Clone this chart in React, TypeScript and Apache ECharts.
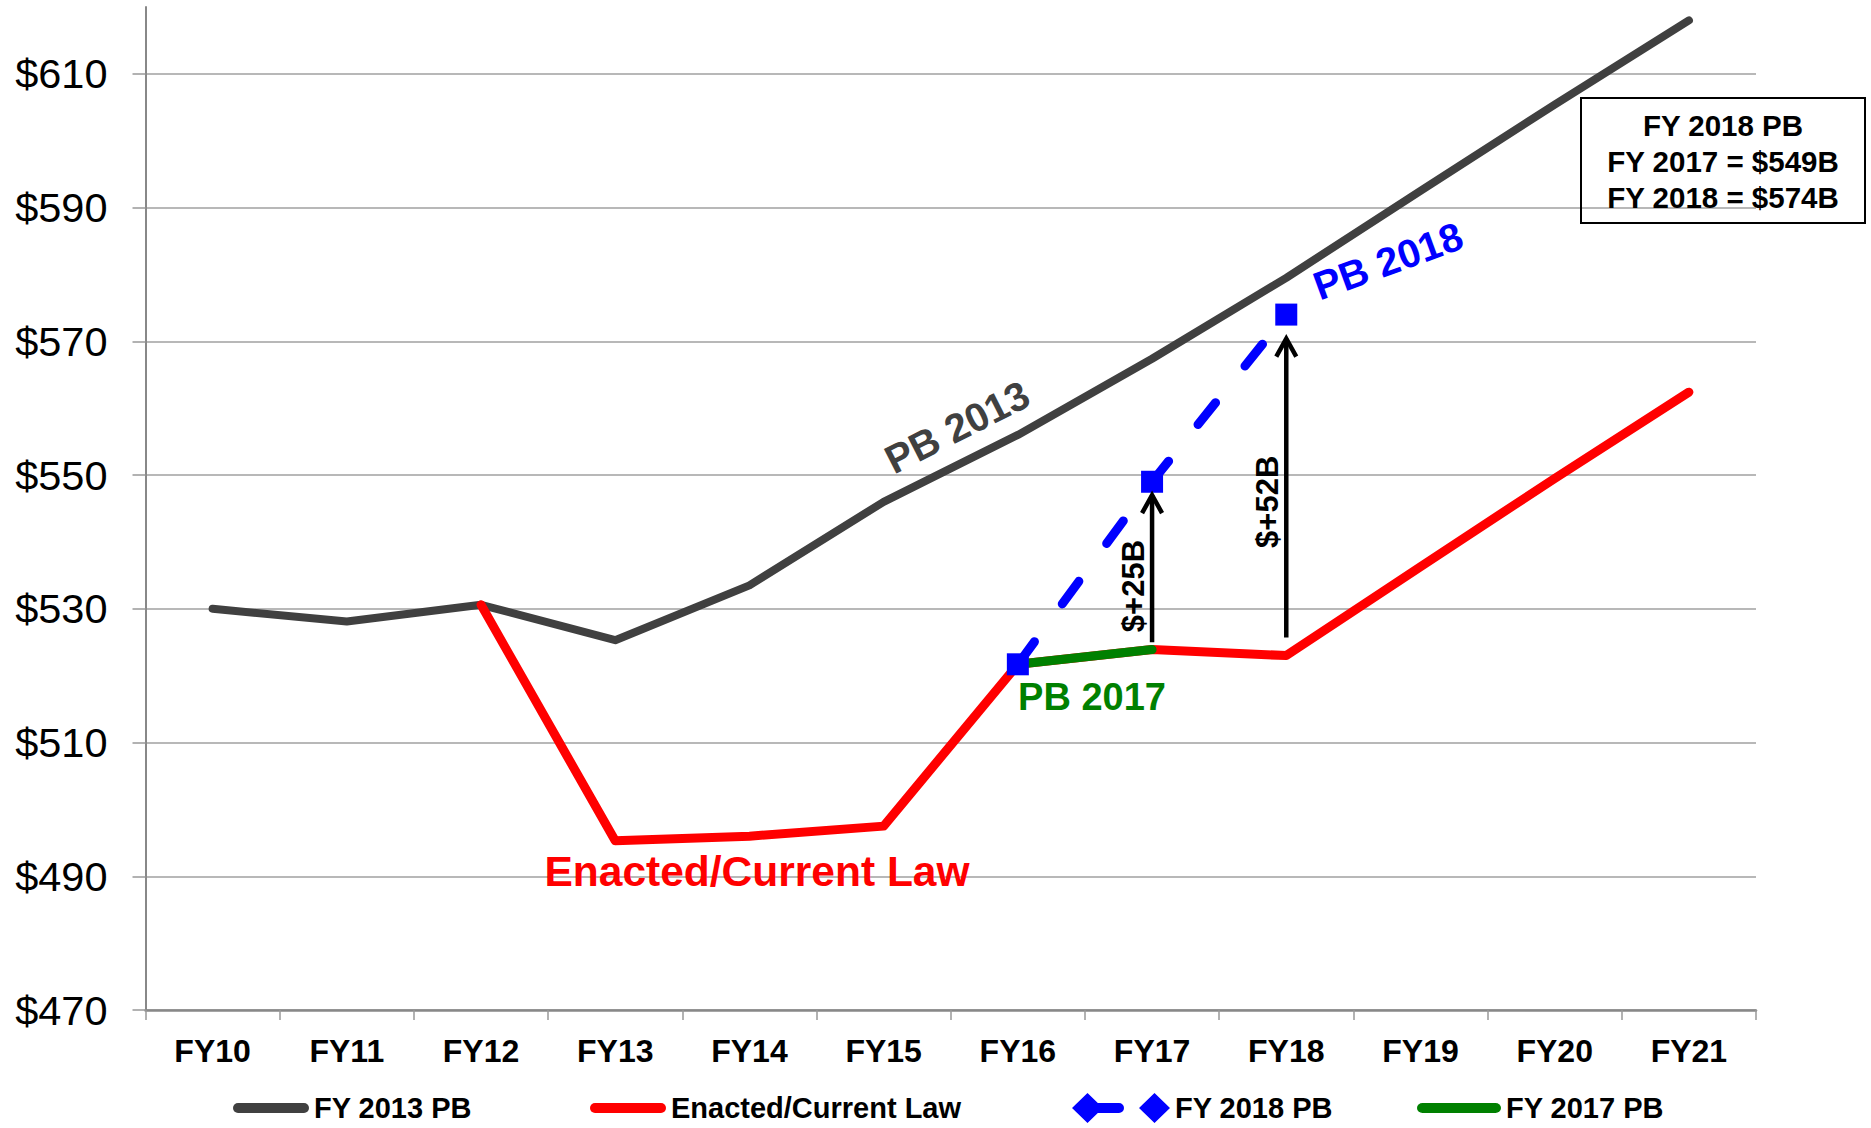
import React, { useEffect, useRef } from 'react';
import * as echarts from 'echarts';

const FONT = 'Arial, "Liberation Sans", Helvetica, sans-serif';

const categories = ['FY10', 'FY11', 'FY12', 'FY13', 'FY14', 'FY15', 'FY16', 'FY17', 'FY18', 'FY19', 'FY20', 'FY21'];
const pb2013 = [530, 528.1, 530.6, 525.3, 533.5, 546, 556, 567.4, 579.5, 592.5, 605.4, 618];
const enacted = [null, null, 530.6, 495.3, 496, 497.5, 521.7, 523.9, 523, 536.3, 549.5, 562.4];
const pb2017 = [null, null, null, null, null, null, 521.7, 523.9, null, null, null, null];
const pb2018 = [null, null, null, null, null, null, 521.7, 549, 574, null, null, null];
const yTicks = [470, 490, 510, 530, 550, 570, 590, 610];

const arrowCats = ['FY17', 'FY18'];
const arrowFrom = [525, 525.7];
const arrowTo = [547.3, 570.7];
const arrowLabelAt = [533.4, 546];
const arrowLabels = ['$+25B', '$+52B'];

const boxLines = ['FY 2018 PB', 'FY 2017 = $549B', 'FY 2018 = $574B'];

const LINE_ICON = 'path://M5,0L71,0A5,5,0,0,1,71,10L5,10A5,5,0,0,1,5,0Z';
const BLUE_ICON =
  'path://M0,15L15.5,0L31,15L15.5,30Z M15,10L47,10A5,5,0,0,1,47,20L15,20Z M67,15L82.5,0L98,15L82.5,30Z';

function makeLegend(name: string, left: number, top: number, icon: string, w: number, h: number, extraText: any = {}) {
  return {
    data: [{ name, icon }],
    left,
    top,
    padding: 0,
    itemWidth: w,
    itemHeight: h,
    itemGap: 0,
    selectedMode: false,
    symbolKeepAspect: false,
    itemStyle: { borderWidth: 0 },
    textStyle: { fontSize: 29, fontWeight: 'bold', color: '#000', fontFamily: FONT, lineHeight: 30, ...extraText },
  };
}

export default function App() {
  const ref = useRef<HTMLDivElement>(null);

  useEffect(() => {
    document.body.style.margin = '0';
    if (!ref.current) return;
    const chart = echarts.init(ref.current, null, { renderer: 'svg' });

    const arrowData = arrowCats.map((c, k) => [categories.indexOf(c), arrowFrom[k], arrowTo[k], arrowLabelAt[k]]);

    const option: any = {
      animation: false,
      backgroundColor: '#fff',
      grid: { left: 145.5, right: 115, top: 7, bottom: 118, containLabel: false, outerBoundsMode: 'none' },
      legend: [
        makeLegend('FY 2013 PB', 233, 1093, LINE_ICON, 76, 10),
        makeLegend('Enacted/Current Law', 590, 1093, LINE_ICON, 76, 10),
        makeLegend('FY 2018 PB', 1072, 1093, BLUE_ICON, 98, 30),
        makeLegend('FY 2017 PB', 1417, 1088, LINE_ICON, 84, 10, { padding: [10, 0, 0, 0] }),
      ],
      xAxis: {
        type: 'category',
        data: categories,
        boundaryGap: true,
        axisLine: { show: true, lineStyle: { color: '#888', width: 2.5 } },
        axisTick: { show: true, length: 10, lineStyle: { color: '#999', width: 1.5 } },
        axisLabel: { fontSize: 32, fontWeight: 'bold', color: '#000', margin: 25, fontFamily: FONT, interval: 0 },
        splitLine: { show: false },
      },
      yAxis: {
        type: 'value',
        min: 470,
        max: 620,
        interval: 20,
        axisLine: { show: true, lineStyle: { color: '#888', width: 2 } },
        axisTick: { show: true, length: 13, lineStyle: { color: '#999', width: 1.5 }, customValues: yTicks },
        axisLabel: {
          formatter: (v: number) => '$' + v,
          fontSize: 41.5,
          color: '#000',
          margin: 38,
          fontFamily: FONT,
          customValues: yTicks,
        },
        splitLine: { show: true, lineStyle: { color: '#A0A0A0', width: 1.5 } },
      },
      series: [
        {
          name: 'FY 2013 PB',
          type: 'line',
          data: pb2013,
          symbol: 'none',
          color: '#404040',
          lineStyle: { color: '#404040', width: 8, cap: 'round', join: 'round' },
          z: 2,
        },
        {
          name: 'Enacted/Current Law',
          type: 'line',
          data: enacted,
          symbol: 'none',
          color: '#FF0000',
          lineStyle: { color: '#FF0000', width: 9, cap: 'round', join: 'round' },
          z: 3,
        },
        {
          name: 'FY 2017 PB',
          type: 'line',
          data: pb2017,
          symbol: 'none',
          color: '#008000',
          lineStyle: { color: '#008000', width: 9, cap: 'round', join: 'round' },
          z: 4,
        },
        {
          name: 'FY 2018 PB',
          type: 'line',
          data: pb2018,
          symbol: 'rect',
          symbolSize: 22,
          showAllSymbol: true,
          color: '#0000FF',
          itemStyle: { color: '#0000FF' },
          lineStyle: { color: '#0000FF', width: 9, type: [28, 47], cap: 'round' },
          z: 5,
        },
        {
          name: 'arrows',
          type: 'custom',
          data: arrowData,
          encode: { x: 0, y: [1, 2, 3] },
          z: 6,
          renderItem: (params: any, api: any) => {
            const i = params.dataIndex;
            const x = api.value(0);
            const p0 = api.coord([x, api.value(1)]);
            const p1 = api.coord([x, api.value(2)]);
            const pl = api.coord([x, api.value(3)]);
            return {
              type: 'group',
              children: [
                {
                  type: 'line',
                  shape: { x1: p0[0], y1: p0[1], x2: p1[0], y2: p1[1] + 2 },
                  style: { stroke: '#000', lineWidth: 4.5 },
                },
                {
                  type: 'polyline',
                  shape: { points: [[p1[0] - 10, p1[1] + 20], [p1[0], p1[1] + 2], [p1[0] + 10, p1[1] + 20]] },
                  style: { stroke: '#000', lineWidth: 4.5, fill: 'none', lineJoin: 'miter' },
                },
                {
                  type: 'text',
                  x: pl[0] - 19,
                  y: pl[1],
                  rotation: Math.PI / 2,
                  style: {
                    text: arrowLabels[i],
                    fill: '#000',
                    fontSize: 31,
                    fontWeight: 'bold',
                    fontFamily: FONT,
                    align: 'center',
                    verticalAlign: 'middle',
                  },
                },
              ],
            };
          },
        },
      ],
      graphic: [
        {
          type: 'text',
          x: 957,
          y: 427,
          rotation: 0.47,
          z: 100,
          style: { text: 'PB 2013', fill: '#404040', fontSize: 40, fontWeight: 'bold', fontFamily: FONT, align: 'center', verticalAlign: 'middle' },
        },
        {
          type: 'text',
          x: 1388,
          y: 261,
          rotation: 0.35,
          z: 100,
          style: { text: 'PB 2018', fill: '#0000FF', fontSize: 40, fontWeight: 'bold', fontFamily: FONT, align: 'center', verticalAlign: 'middle' },
        },
        {
          type: 'text',
          x: 1092,
          y: 697,
          z: 100,
          style: { text: 'PB 2017', fill: '#008000', fontSize: 38, fontWeight: 'bold', fontFamily: FONT, align: 'center', verticalAlign: 'middle' },
        },
        {
          type: 'text',
          x: 757,
          y: 871,
          z: 100,
          style: { text: 'Enacted/Current Law', fill: '#FF0000', fontSize: 42.5, fontWeight: 'bold', fontFamily: FONT, align: 'center', verticalAlign: 'middle' },
        },
        {
          type: 'rect',
          z: 100,
          shape: { x: 1581, y: 98, width: 284, height: 125 },
          style: { fill: 'transparent', stroke: '#000', lineWidth: 2 },
        },
        {
          type: 'text',
          x: 1723,
          y: 161,
          z: 101,
          style: {
            text: boxLines.join('\n'),
            fill: '#000',
            fontSize: 29.5,
            fontWeight: 'bold',
            fontFamily: FONT,
            lineHeight: 36,
            align: 'center',
            verticalAlign: 'middle',
          },
        },
      ],
    };

    chart.setOption(option);
    return () => chart.dispose();
  }, []);

  return <div ref={ref} style={{ width: '1871px', height: '1128px' }} />;
}
